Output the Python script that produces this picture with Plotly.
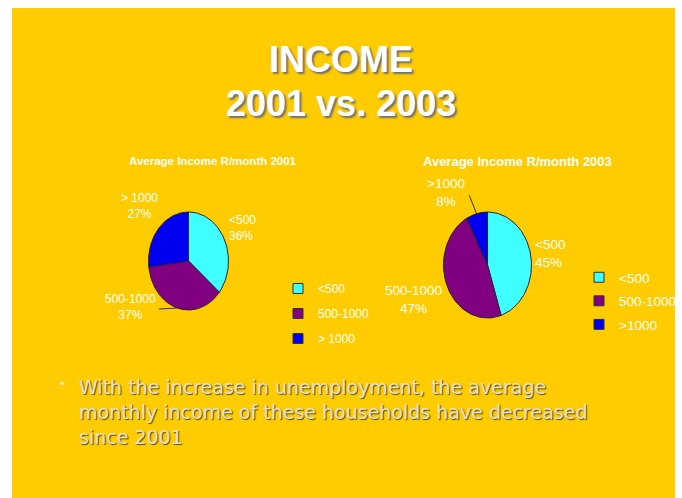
import numpy as np
import plotly.graph_objects as go

W, H = 682, 498

# ---- data ----
categories_2001 = ["<500", "500-1000", "> 1000"]
categories_2003 = ["<500", "500-1000", ">1000"]
share_2001 = [36, 37, 27]
share_2003 = [45, 47, 8]
slice_colors = ["#3FFFFF", "#800080", "#0000F0"]
pie_titles = ["Average Income R/month 2001", "Average Income R/month 2003"]
main_title = ["INCOME", "2001 vs. 2003"]
bullet_lines = [
    "With the increase in unemployment, the average",
    "monthly income of these households have decreased",
    "since 2001",
]


def px(x):
    return x / W


def py(y):
    return 1 - y / H


def wedge(start, end, total, n=80):
    a = np.linspace(start / total * 2 * np.pi, end / total * 2 * np.pi, n)
    xs = np.concatenate([[0], np.sin(a), [0]])
    ys = np.concatenate([[0], np.cos(a), [0]])
    return xs, ys


def mid_point(values, i):
    total = sum(values)
    start = sum(values[:i])
    a = (start + values[i] / 2) / total * 2 * np.pi
    return float(np.sin(a)), float(np.cos(a))


fig = go.Figure()

pies = [
    dict(cats=categories_2001, vals=share_2001, xa="x", ya="y", legend="legend"),
    dict(cats=categories_2003, vals=share_2003, xa="x2", ya="y2", legend="legend2"),
]

for p in pies:
    total = sum(p["vals"])
    start = 0
    for c, v, col in zip(p["cats"], p["vals"], slice_colors):
        xs, ys = wedge(start, start + v, total)
        start += v
        fig.add_trace(go.Scatter(
            x=xs, y=ys, mode="lines", fill="toself", fillcolor=col,
            line=dict(color="#2b2040", width=1), xaxis=p["xa"], yaxis=p["ya"],
            showlegend=False, hoverinfo="skip"))
    for c, col in zip(p["cats"], slice_colors):
        fig.add_trace(go.Scatter(
            x=[None], y=[None], mode="markers", name=c,
            marker=dict(symbol="square", size=10, color=col,
                        line=dict(color="#333", width=1)),
            xaxis=p["xa"], yaxis=p["ya"], legend=p["legend"],
            legendgroup=p["legend"] + c, showlegend=True))

R = 1.03
# ellipse geometry (pixels): center x, center y, rx, ry
geo = [(188.5, 261, 40, 49), (487.5, 265, 44, 53)]
axes = {}
for i, (cx, cy, rx, ry) in enumerate(geo):
    sfx = "" if i == 0 else str(i + 1)
    axes["xaxis" + sfx] = dict(domain=[px(cx - rx * R), px(cx + rx * R)],
                               range=[-R, R], visible=False, fixedrange=True,
                               anchor="y" + sfx)
    axes["yaxis" + sfx] = dict(domain=[py(cy + ry * R), py(cy - ry * R)],
                               range=[-R, R], visible=False, fixedrange=True,
                               anchor="x" + sfx)

ann = []
# main title
for txt, y in zip(main_title, [60, 104]):
    ann.append(dict(text="<b>%s</b>" % txt, x=px(341), y=py(y), xref="paper", yref="paper",
                    showarrow=False, xanchor="center", yanchor="middle",
                    font=dict(family="Liberation Sans", size=36, color="white",
                              shadow="2px 2px 2px #6e6e6e")))
# pie titles
for txt, x, fs in zip(pie_titles, [213, 517], [11.5, 13]):
    ann.append(dict(text="<b>%s</b>" % txt, x=px(x), y=py(161), xref="paper", yref="paper",
                    showarrow=False, xanchor="center", yanchor="middle",
                    font=dict(family="Liberation Sans", size=fs, color="white")))

# slice labels
lab_font1 = dict(family="Liberation Sans", size=12, color="white")
lab_font2 = dict(family="Liberation Sans", size=13.5, color="white")
label_pos = [
    # (pie index, slice index, x, y, xanchor, align)
    (0, 0, 227, 228, "left", "left"),
    (0, 1, 130, 307, "center", "center"),
    (0, 2, 139, 206, "center", "center"),
    (1, 0, 533, 253, "left", "left"),
    (1, 1, 413, 299, "center", "center"),
    (1, 2, 446, 193, "center", "center"),
]
for pi, si, x, y, xan, al in label_pos:
    p = pies[pi]
    txt = "%s<br>%d%%" % (p["cats"][si], p["vals"][si])
    ann.append(dict(text=txt, x=px(x), y=py(y), xref="paper", yref="paper",
                    showarrow=False, xanchor=xan, yanchor="middle", align=al,
                    font=lab_font1 if pi == 0 else lab_font2))

# leader lines
leaders = [(0, 1, -20, 1), (1, 2, -8, -20)]
for pi, si, ax, ay in leaders:
    p = pies[pi]
    mx, my = mid_point(p["vals"], si)
    ann.append(dict(text="", x=mx, y=my, xref=p["xa"], yref=p["ya"],
                    showarrow=True, arrowhead=0, arrowwidth=1, arrowcolor="#333",
                    ax=ax, ay=ay, standoff=0, startstandoff=0))

# bullet
ann.append(dict(text="\u2022", x=px(62), y=py(384), xref="paper", yref="paper",
                showarrow=False, xanchor="center", yanchor="middle",
                font=dict(family="DejaVu Sans", size=12, color="#E6E2D6")))
for txt, y in zip(bullet_lines, [387, 412, 437]):
    ann.append(dict(text=txt, x=px(77), y=py(y), xref="paper", yref="paper",
                    showarrow=False, xanchor="left", yanchor="middle",
                    font=dict(family="DejaVu Sans", size=19, color="#E4E0D4",
                              shadow="1px 1px 1px #5a4a00")))

fig.update_layout(
    width=W, height=H, margin=dict(l=0, r=0, t=0, b=0),
    paper_bgcolor="white", plot_bgcolor="rgba(0,0,0,0)",
    annotations=ann,
    shapes=[dict(type="rect", xref="paper", yref="paper", x0=px(12), x1=px(675),
                 y0=0, y1=py(8), fillcolor="#FFCC00", line=dict(width=0), layer="below")],
    legend=dict(x=px(278), y=py(274), xanchor="left", yanchor="top",
                bgcolor="rgba(0,0,0,0)", traceorder="grouped", tracegroupgap=6,
                font=dict(family="Liberation Sans", size=12, color="white")),
    legend2=dict(x=px(579), y=py(262), xanchor="left", yanchor="top",
                 bgcolor="rgba(0,0,0,0)", traceorder="grouped", tracegroupgap=3,
                 font=dict(family="Liberation Sans", size=13.5, color="white")),
    **axes,
)

fig.write_html("out.html")
